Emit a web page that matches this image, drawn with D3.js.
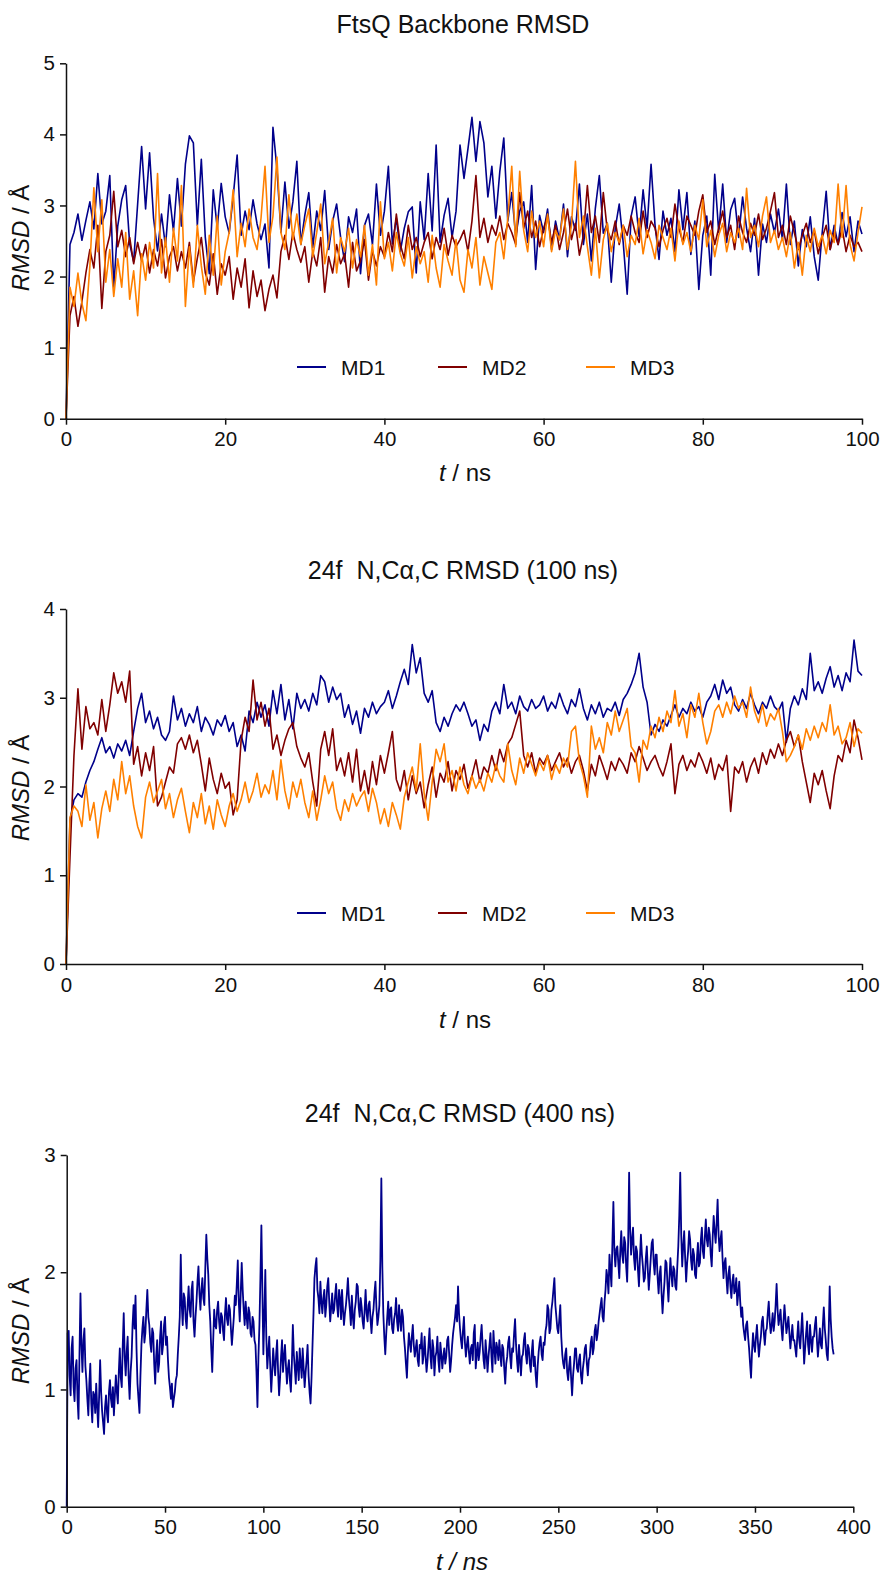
<!DOCTYPE html>
<html><head><meta charset="utf-8">
<script src="https://cdn.jsdelivr.net/npm/d3@7"></script>
<style>
body{margin:0;background:#fff;}
svg{display:block;font-family:"Liberation Sans",Arial,sans-serif;}
</style></head><body>
<svg id="c" width="883" height="1577"></svg>
<script>
// ---------------- DATA ----------------
const seriesNames = ["MD1","MD2","MD3"];
const seriesColors = ["#00008b","#800000","#ff8000"];
const dt1 = 0.5; // ns step panels 1-2
const dt3 = 0.5; // ns step panel 3

const p1MD1 = [
0.00,2.45,2.62,2.88,2.51,2.79,3.05,2.67,3.45,2.74,
2.92,3.42,1.85,2.71,3.08,3.28,2.46,2.21,3.02,3.83,
2.95,3.74,2.82,2.36,2.88,2.42,3.15,2.64,3.38,2.71,
3.58,3.98,3.88,2.72,3.65,2.55,2.04,3.22,2.68,3.31,
2.84,2.61,3.12,3.71,2.58,2.92,2.66,3.08,2.74,2.52,
2.74,2.12,4.10,3.52,2.62,3.33,2.68,3.05,3.62,2.45,
2.86,3.18,2.41,2.92,2.65,3.21,2.38,2.78,3.02,2.55,
2.21,2.84,2.62,2.95,2.04,2.72,2.88,2.45,3.30,2.58,
2.92,3.55,2.46,2.82,2.35,2.68,2.91,2.98,2.05,3.05,
2.52,3.45,2.64,3.85,2.48,2.86,3.10,2.55,2.92,3.85,
3.38,3.80,4.24,3.62,4.18,3.88,3.12,3.55,2.82,3.48,
3.95,2.78,3.18,2.56,2.92,3.05,2.48,3.28,2.10,2.86,
2.62,2.95,2.38,2.78,2.52,3.02,2.28,2.84,2.65,3.30,
2.45,2.88,2.22,2.96,3.42,2.61,2.75,1.92,2.68,3.02,
2.48,1.75,2.85,3.12,2.56,3.22,2.68,3.58,2.72,2.24,
2.92,2.58,2.82,2.35,3.22,2.66,3.18,2.31,2.78,1.82,
2.58,2.85,2.02,3.44,2.62,3.30,2.48,2.94,3.10,2.55,
3.12,2.68,2.35,2.82,2.02,2.74,2.48,2.88,2.62,2.95,
2.52,3.30,2.45,2.78,2.15,2.66,2.42,2.84,2.28,1.95,
2.62,3.20,2.38,2.72,2.45,2.90,2.56,2.84,2.35,2.78,
2.60];
const p1MD2 = [
0.00,1.45,1.72,1.30,1.65,2.05,2.38,2.12,2.72,1.55,
2.35,2.58,3.20,2.42,2.65,2.28,2.55,2.18,2.48,2.22,
2.45,2.05,2.38,2.15,2.52,1.98,2.28,2.42,2.08,2.35,
2.12,2.48,1.92,2.26,2.55,2.05,1.88,2.32,1.75,2.18,
2.02,2.28,1.68,2.12,1.85,2.25,1.56,2.08,1.72,1.95,
1.52,1.82,2.02,1.70,2.35,2.58,2.24,2.62,2.38,2.20,
2.42,1.92,2.35,2.15,2.55,1.78,2.28,2.05,2.45,2.18,
2.32,1.85,2.48,2.08,2.22,2.52,1.95,2.36,2.15,2.42,
2.28,2.62,2.35,2.88,2.45,2.25,2.72,2.38,2.55,2.28,
2.48,2.62,2.25,2.55,2.38,2.68,2.30,2.58,2.42,2.52,
2.65,2.35,2.78,3.42,2.55,2.82,2.48,2.72,2.58,2.85,
2.52,2.75,2.62,2.45,3.18,2.68,2.92,2.55,2.78,2.42,
2.68,2.85,2.48,2.72,2.38,2.62,2.95,2.52,2.75,2.30,
2.58,3.28,2.62,2.85,2.48,3.18,2.65,2.52,2.78,2.45,
2.72,2.58,2.85,2.62,2.48,2.92,2.55,2.78,2.68,2.42,
2.65,2.82,2.55,3.02,2.68,2.48,2.85,2.72,2.58,2.92,
3.15,2.62,2.78,2.45,2.68,2.92,2.55,2.72,2.38,2.85,
2.62,2.48,2.75,2.58,2.88,2.52,2.68,2.92,3.18,2.55,
2.72,2.45,2.85,2.62,2.38,2.58,2.75,2.48,2.65,2.32,
2.55,2.72,2.38,2.62,2.45,2.68,2.35,2.58,2.42,2.48,
2.35];
const p1MD3 = [
0.00,1.85,1.58,2.05,1.62,1.38,2.15,3.25,2.35,3.08,
1.92,2.38,1.72,2.25,1.85,2.62,1.68,2.08,1.45,2.32,
1.95,2.48,2.12,3.45,2.05,2.55,1.92,2.68,2.22,3.28,
1.58,2.42,1.85,2.72,2.15,1.75,2.58,2.02,2.85,1.88,
2.35,2.62,3.22,2.28,2.75,2.42,2.95,2.55,2.38,2.82,
3.55,2.48,2.85,3.68,2.62,2.38,3.15,2.52,2.88,2.45,
2.72,2.95,2.28,2.62,3.02,2.18,2.48,2.82,2.05,2.55,
2.35,2.68,2.12,2.52,2.28,2.72,2.02,2.45,1.88,3.05,
2.25,2.48,2.08,2.62,2.32,2.15,2.55,1.98,2.42,2.18,
2.35,1.92,2.58,2.12,1.85,2.45,2.22,2.02,2.52,1.95,
1.78,2.38,2.12,2.55,1.88,2.28,2.05,1.82,2.48,2.62,
2.25,2.82,3.55,2.42,3.48,2.65,2.35,2.92,2.55,2.78,
2.42,2.88,2.35,2.65,2.52,2.95,2.38,2.72,3.62,2.55,
2.85,2.42,2.02,2.68,1.98,2.52,2.75,2.35,2.62,2.48,
2.72,2.28,2.58,2.45,2.82,2.32,2.65,2.48,2.25,2.72,
2.55,2.38,2.68,2.22,2.78,2.45,2.62,2.35,2.72,2.52,
3.08,2.42,2.65,2.28,2.58,2.75,2.35,2.62,2.48,2.68,
2.38,3.24,2.55,2.72,2.42,2.85,3.12,2.48,2.65,2.38,
2.55,2.28,2.62,2.12,2.48,2.02,2.58,2.35,2.68,2.42,
2.58,2.32,2.65,2.48,3.30,2.55,3.28,2.45,2.22,2.62,
2.98];

const p2MD1 = [
0.00,1.62,1.85,1.92,1.88,2.05,2.18,2.28,2.42,2.55,
2.38,2.45,2.32,2.48,2.40,2.52,2.35,2.62,2.88,3.05,
2.72,2.85,2.65,2.78,2.58,2.52,2.62,3.02,2.75,2.88,
2.68,2.82,2.72,2.90,2.62,2.78,2.70,2.58,2.75,2.68,
2.80,2.62,2.72,2.45,2.58,2.40,2.85,2.72,2.95,2.78,
2.92,2.68,3.08,2.82,3.15,2.75,2.98,2.65,3.05,2.88,
2.98,2.85,3.05,2.92,3.25,3.18,2.95,3.12,2.98,3.05,
2.78,2.92,2.70,2.85,2.60,2.88,2.78,2.95,2.82,2.90,
2.95,3.08,2.88,3.02,3.18,3.32,3.15,3.60,3.28,3.45,
3.05,2.95,3.08,2.72,2.62,2.78,2.68,2.82,2.92,2.85,
2.95,2.82,2.68,2.75,2.52,2.70,2.62,2.85,2.95,2.82,
3.15,2.88,2.95,2.82,3.02,2.90,2.85,2.98,2.88,2.92,
3.02,2.85,2.95,2.88,3.05,2.92,2.82,2.98,2.90,3.10,
2.88,2.75,2.92,2.82,2.95,2.78,2.88,2.85,2.95,2.80,
2.98,3.05,3.15,3.28,3.50,3.12,2.95,2.58,2.70,2.62,
2.75,2.68,2.80,2.92,2.78,2.88,2.82,2.95,2.85,2.90,
2.78,2.95,3.02,3.15,2.98,3.20,3.05,3.12,2.92,2.85,
2.98,2.88,3.05,2.92,2.82,2.95,2.88,3.02,2.90,2.85,
2.95,2.50,2.88,3.02,2.92,3.10,2.98,3.50,3.08,3.18,
3.05,3.22,3.35,3.12,3.25,3.08,3.28,3.18,3.65,3.30,
3.25];
const p2MD2 = [
0.00,1.20,2.35,3.10,2.42,2.90,2.65,2.72,2.58,2.98,
2.62,2.92,3.28,3.05,3.18,2.95,3.30,2.25,2.45,2.12,
2.38,2.18,2.45,1.78,1.88,2.05,2.22,2.15,2.48,2.55,
2.42,2.58,2.38,2.52,2.25,1.95,2.32,2.08,1.92,2.15,
1.98,2.05,1.68,1.85,2.52,2.78,2.62,3.20,2.75,2.95,
2.68,2.88,2.42,2.58,2.35,2.52,2.65,2.72,2.45,2.32,
2.22,2.38,2.05,1.78,2.42,2.62,2.35,2.65,2.18,2.32,
2.12,2.38,2.05,2.42,1.95,2.18,1.92,2.28,2.02,2.35,
2.15,2.38,2.62,2.08,1.95,2.18,1.85,2.12,1.92,2.05,
1.76,2.02,2.22,1.88,2.15,2.05,2.28,1.95,2.18,2.08,
2.25,1.98,2.12,2.30,2.05,2.22,2.15,2.35,2.18,2.42,
2.28,2.48,2.55,2.70,2.85,2.35,2.22,2.38,2.15,2.32,
2.25,2.35,2.18,2.28,2.38,2.22,2.32,2.15,2.28,2.35,
2.18,1.95,2.25,2.12,2.35,2.22,2.08,2.28,2.18,2.32,
2.25,2.15,2.38,2.28,2.45,2.32,2.18,2.28,2.35,2.22,
2.12,2.28,2.48,1.92,2.25,2.35,2.18,2.30,2.22,2.38,
2.28,2.15,2.32,2.08,2.25,2.18,2.35,1.72,2.22,2.15,
2.28,2.05,2.22,2.32,2.15,2.38,2.25,2.42,2.32,2.48,
2.35,2.52,2.62,2.45,2.58,2.28,2.05,1.82,2.15,2.02,
2.18,1.95,1.75,2.12,2.35,2.28,2.52,2.38,2.75,2.55,
2.30];
const p2MD3 = [
0.00,1.65,1.78,1.72,1.55,2.02,1.62,1.82,1.42,1.75,
1.95,1.72,2.08,1.85,2.28,1.92,2.12,1.78,1.55,1.42,
1.88,2.05,1.82,1.95,2.08,1.75,1.92,1.65,1.85,1.98,
1.72,1.48,1.82,1.65,1.92,1.58,1.78,1.52,1.85,1.68,
1.55,1.78,1.92,1.72,1.85,2.05,1.82,1.95,2.15,1.88,
2.02,1.92,2.18,1.85,2.30,1.95,1.75,2.05,1.88,2.08,
1.82,1.65,1.95,1.62,1.85,2.12,1.92,2.05,1.75,1.62,
1.85,1.72,1.92,1.78,1.88,1.95,1.72,1.98,1.82,1.58,
1.75,1.55,1.82,1.68,1.52,1.88,2.05,2.22,1.95,2.48,
1.92,1.62,2.05,2.42,2.28,2.48,2.05,2.18,1.95,2.22,
2.02,1.92,2.12,1.98,2.08,1.95,2.15,2.05,2.25,2.12,
2.05,2.48,2.18,2.02,2.32,2.15,2.38,2.25,2.12,2.28,
2.18,2.35,2.08,2.25,2.15,2.32,2.22,2.62,2.68,2.28,
2.12,1.88,2.68,2.42,2.55,2.38,2.72,2.58,2.85,2.62,
2.75,2.88,2.45,2.38,2.05,2.52,2.42,2.68,2.55,2.78,
2.62,2.85,2.72,3.08,2.68,2.82,2.55,2.92,2.78,3.05,
2.72,2.48,2.62,2.85,2.92,2.78,2.95,2.82,3.02,2.88,
2.95,2.78,3.12,2.85,2.72,2.92,2.68,2.82,2.75,2.88,
2.62,2.28,2.35,2.45,2.58,2.42,2.65,2.52,2.68,2.55,
2.72,2.62,2.92,2.58,2.68,2.48,2.55,2.72,2.45,2.65,
2.60];

const p3MD1 = [
0.00,1.48,1.50,1.12,0.95,1.35,1.45,1.02,0.90,1.18,1.25,0.92,0.75,1.30,1.82,1.38,1.15,1.42,1.52,1.20,
1.08,0.92,0.78,1.05,1.22,0.88,0.72,0.98,0.95,0.80,1.05,0.85,0.68,0.95,1.25,0.98,0.82,0.72,0.62,0.85,
0.95,0.80,0.72,0.98,1.08,0.92,0.85,1.02,0.78,0.95,1.12,0.98,0.88,1.15,1.35,1.10,1.02,1.38,1.65,1.28,
1.12,1.32,1.45,1.10,0.92,1.15,1.28,1.55,1.72,1.52,1.80,1.35,1.05,0.92,0.80,1.12,1.38,1.52,1.62,1.40,
1.48,1.68,1.85,1.62,1.55,1.40,1.32,1.52,1.48,1.22,1.05,1.28,1.42,1.15,1.22,1.45,1.58,1.30,1.38,1.55,
1.62,1.38,1.45,1.25,1.10,1.02,0.92,1.05,0.85,0.92,0.98,1.08,1.12,1.30,1.45,1.62,2.15,1.72,1.55,1.82,
1.78,1.60,1.52,1.72,1.88,1.68,1.62,1.85,1.92,1.58,1.45,1.62,1.75,1.92,2.05,1.82,1.68,1.85,1.95,1.78,
1.72,2.05,2.32,2.12,1.98,1.72,1.58,1.35,1.15,1.42,1.68,1.55,1.52,1.68,1.75,1.58,1.48,1.65,1.62,1.50,
1.42,1.65,1.78,1.60,1.55,1.72,1.68,1.52,1.38,1.50,1.62,1.80,1.72,1.90,2.10,1.75,1.58,1.82,2.08,1.85,
1.68,1.55,1.75,1.62,1.52,1.70,1.65,1.48,1.45,1.62,1.58,1.42,1.38,1.15,0.85,1.28,1.55,1.95,2.40,1.85,
1.30,1.62,2.02,1.45,1.18,1.32,1.45,1.20,0.98,1.15,1.35,1.22,1.12,1.30,1.42,1.15,0.95,1.10,1.28,1.42,
1.15,1.28,1.38,1.20,1.05,1.18,1.25,1.08,0.98,1.22,1.55,1.30,1.18,1.05,1.32,1.20,1.08,1.35,1.22,1.10,
1.35,1.18,1.02,1.15,1.25,1.38,1.12,0.98,0.88,1.10,1.38,1.65,1.95,2.05,2.12,1.85,1.78,1.65,1.92,1.75,
1.65,1.78,1.85,1.62,1.72,1.88,1.95,1.75,1.58,1.70,1.82,1.65,1.68,1.80,1.90,1.72,1.62,1.85,1.78,1.60,
1.85,1.68,1.55,1.65,1.72,1.82,1.95,1.78,1.68,1.55,1.80,1.62,1.52,1.68,1.75,1.90,1.88,1.70,1.62,1.78,
1.70,1.58,1.52,1.68,1.85,1.65,1.58,1.72,1.75,1.60,1.48,1.62,1.68,1.82,1.92,1.70,1.55,1.62,1.72,2.10,
2.80,2.05,1.65,1.45,1.30,1.48,1.62,1.75,1.55,1.68,1.70,1.52,1.48,1.60,1.65,1.78,1.58,1.50,1.72,1.60,
1.50,1.68,1.62,1.45,1.35,1.22,1.10,1.32,1.48,1.40,1.32,1.45,1.55,1.38,1.28,1.35,1.42,1.25,1.20,1.38,
1.35,1.48,1.22,1.30,1.45,1.28,1.15,1.25,1.38,1.52,1.28,1.18,1.42,1.35,1.12,1.28,1.32,1.45,1.25,1.15,
1.40,1.30,1.18,1.28,1.35,1.22,1.28,1.42,1.45,1.30,1.15,1.25,1.38,1.48,1.55,1.62,1.72,1.58,1.88,1.65,
1.52,1.42,1.35,1.50,1.62,1.40,1.28,1.38,1.45,1.32,1.22,1.35,1.38,1.25,1.48,1.55,1.18,1.30,1.40,1.25,
1.32,1.45,1.55,1.38,1.25,1.18,1.42,1.30,1.15,1.28,1.38,1.48,1.28,1.15,1.50,1.35,1.22,1.40,1.35,1.25,
1.42,1.30,1.20,1.38,1.35,1.18,1.05,1.22,1.28,1.40,1.45,1.28,1.18,1.35,1.32,1.48,1.60,1.38,1.25,1.15,
1.38,1.25,1.12,1.28,1.30,1.42,1.48,1.30,1.22,1.38,1.35,1.22,1.15,1.32,1.42,1.20,1.28,1.12,1.02,1.20,
1.32,1.40,1.45,1.30,1.25,1.40,1.38,1.50,1.55,1.72,1.68,1.48,1.52,1.68,1.75,1.85,1.95,1.72,1.62,1.52,
1.48,1.60,1.72,1.45,1.30,1.22,1.18,1.30,1.35,1.15,1.08,1.20,1.28,1.10,0.95,1.12,1.22,1.35,1.35,1.18,
1.15,1.25,1.30,1.12,1.05,1.18,1.25,1.35,1.38,1.22,1.12,1.25,1.28,1.40,1.45,1.30,1.35,1.50,1.55,1.42,
1.48,1.58,1.65,1.72,1.78,1.62,1.58,1.75,1.85,2.02,1.95,1.82,2.15,2.02,1.88,2.25,2.60,2.18,2.05,2.20,
2.22,2.08,1.95,2.18,2.35,2.15,2.08,2.30,2.25,2.05,1.92,2.25,2.85,2.38,2.15,2.28,2.38,2.12,2.02,2.22,
2.18,2.02,1.88,2.12,2.32,2.15,2.05,1.92,1.95,2.12,2.22,2.02,1.85,1.98,2.12,2.25,2.28,2.08,1.98,2.15,
2.15,1.95,1.82,1.98,2.05,1.82,1.65,1.80,1.92,2.10,2.08,1.90,1.75,1.95,2.12,1.98,1.88,2.05,2.02,1.88,
1.85,2.05,2.22,2.48,2.85,2.32,2.05,2.22,2.35,2.12,1.92,2.08,2.18,2.35,2.28,2.10,2.02,2.20,2.15,1.98,
1.95,2.12,2.25,2.05,2.08,2.28,2.38,2.18,2.12,2.30,2.45,2.28,2.22,2.38,2.32,2.15,2.05,2.30,2.48,2.35,
2.25,2.42,2.62,2.32,2.18,2.28,2.35,2.12,1.95,2.08,2.12,1.95,1.82,1.98,2.05,1.88,1.78,1.92,1.98,1.82,
1.85,1.95,1.72,1.82,1.92,1.75,1.62,1.70,1.55,1.48,1.42,1.55,1.58,1.45,1.35,1.22,1.10,1.32,1.48,1.38,
1.32,1.45,1.55,1.40,1.28,1.38,1.45,1.58,1.62,1.48,1.38,1.50,1.52,1.65,1.75,1.58,1.48,1.55,1.65,1.50,
1.58,1.72,1.90,1.68,1.55,1.62,1.68,1.52,1.42,1.58,1.72,1.60,1.48,1.55,1.62,1.48,1.35,1.45,1.55,1.42,
1.42,1.35,1.28,1.45,1.58,1.42,1.35,1.50,1.65,1.45,1.22,1.35,1.48,1.58,1.38,1.30,1.55,1.42,1.32,1.45,
1.45,1.55,1.62,1.42,1.28,1.40,1.52,1.38,1.35,1.55,1.70,1.52,1.42,1.30,1.25,1.50,1.88,1.60,1.45,1.35,
1.30];

const ticksX12 = [0,20,40,60,80,100];
const ticksY1 = [0,1,2,3,4,5];
const ticksY2 = [0,1,2,3,4];
const ticksX3 = [0,50,100,150,200,250,300,350,400];
const ticksY3 = [0,1,2,3];
const titles = ["FtsQ Backbone RMSD","24f  N,C\u03b1,C RMSD (100 ns)","24f  N,C\u03b1,C RMSD (400 ns)"];

// ---------------- DRAW ----------------
const svg = d3.select("#c");
const FONT_TICK = 20.5, FONT_LAB = 24, FONT_TITLE = 25, FONT_LEG = 21;

function panel(cfg){
  const g = svg.append("g");
  const x = d3.scaleLinear().domain(cfg.xDom).range([cfg.x0, cfg.x1]);
  const y = d3.scaleLinear().domain(cfg.yDom).range([cfg.yb, cfg.yt]);

  g.append("text").attr("x", cfg.tx).attr("y", cfg.ty)
    .attr("text-anchor","middle").attr("font-size",FONT_TITLE)
    .style("white-space","pre").attr("fill","#111").text(cfg.title);

  const line = d3.line().x(d=>x(d[0])).y(d=>y(d[1]));
  cfg.series.forEach((s,i)=>{
    const pts = s.values.map((v,k)=>[k*cfg.dt, v]);
    g.append("path").datum(pts).attr("d", line)
      .attr("fill","none").attr("stroke", s.color)
      .attr("stroke-width",cfg.sw).attr("stroke-linejoin","round");
  });

  const ax = g.append("g").attr("transform",`translate(0,${cfg.yb})`)
    .call(d3.axisBottom(x).tickValues(cfg.xt).tickSize(6).tickSizeOuter(0).tickPadding(7).tickFormat(d3.format("d")));
  const ay = g.append("g").attr("transform",`translate(${cfg.x0},0)`)
    .call(d3.axisLeft(y).tickValues(cfg.yt2).tickSize(6).tickSizeOuter(0).tickPadding(5).tickFormat(d3.format("d")));
  [ax,ay].forEach(a=>{
    a.selectAll("path.domain").attr("stroke","#111").attr("stroke-width",1.5);
    a.selectAll(".tick line").attr("stroke","#111").attr("stroke-width",1.5);
    a.selectAll(".tick text").attr("font-size",FONT_TICK).attr("fill","#111")
      .attr("font-family","'Liberation Sans',Arial,sans-serif");
  });

  const xl = g.append("text").attr("x", cfg.xlx).attr("y", cfg.xly)
    .attr("text-anchor","middle").attr("font-size",FONT_LAB).attr("fill","#111");
  if (cfg.allItalic){
    xl.append("tspan").attr("font-style","italic").text("t / ns");
  } else {
    xl.append("tspan").attr("font-style","italic").text("t");
    xl.append("tspan").text(" / ns");
  }
  const yl = g.append("text").attr("transform",`translate(${cfg.ylx},${cfg.yly}) rotate(-90)`)
    .attr("text-anchor","middle").attr("font-size",FONT_LAB).attr("fill","#111");
  yl.append("tspan").attr("font-style","italic").text("RMSD");
  yl.append("tspan").text(" / \u00c5");

  if (cfg.legendY){
    const lx = [297, 438, 586];
    cfg.series.forEach((s,i)=>{
      g.append("line").attr("x1",lx[i]).attr("x2",lx[i]+29)
        .attr("y1",cfg.legendY).attr("y2",cfg.legendY)
        .attr("stroke",s.color).attr("stroke-width",2);
      g.append("text").attr("x",lx[i]+44).attr("y",cfg.legendY).attr("dy","0.36em")
        .attr("font-size",FONT_LEG).attr("fill","#111").text(s.name);
    });
  }
}

panel({title:titles[0], tx:463, ty:33, xDom:[0,100], yDom:[0,5],
  x0:66, x1:862, yb:418.7, yt:63.3, xt:ticksX12, yt2:ticksY1, dt:dt1, sw:1.6,
  series:[{name:seriesNames[0],color:seriesColors[0],values:p1MD1},
          {name:seriesNames[1],color:seriesColors[1],values:p1MD2},
          {name:seriesNames[2],color:seriesColors[2],values:p1MD3}],
  xlx:465, xly:481, ylx:29, yly:238, legendY:367});

panel({title:titles[1], tx:463, ty:579, xDom:[0,100], yDom:[0,4],
  x0:66, x1:862, yb:964, yt:609, xt:ticksX12, yt2:ticksY2, dt:dt1, sw:1.6,
  series:[{name:seriesNames[0],color:seriesColors[0],values:p2MD1},
          {name:seriesNames[1],color:seriesColors[1],values:p2MD2},
          {name:seriesNames[2],color:seriesColors[2],values:p2MD3}],
  xlx:465, xly:1028, ylx:29, yly:788, legendY:913});

panel({title:titles[2], tx:460, ty:1122, xDom:[0,400], yDom:[0,3],
  x0:66.7, x1:853.3, yb:1506.7, yt:1155, xt:ticksX3, yt2:ticksY3, dt:dt3, sw:1.8,
  series:[{name:seriesNames[0],color:seriesColors[0],values:p3MD1}],
  xlx:462, xly:1570, ylx:29, yly:1331, legendY:null, allItalic:true});
</script>
</body></html>
